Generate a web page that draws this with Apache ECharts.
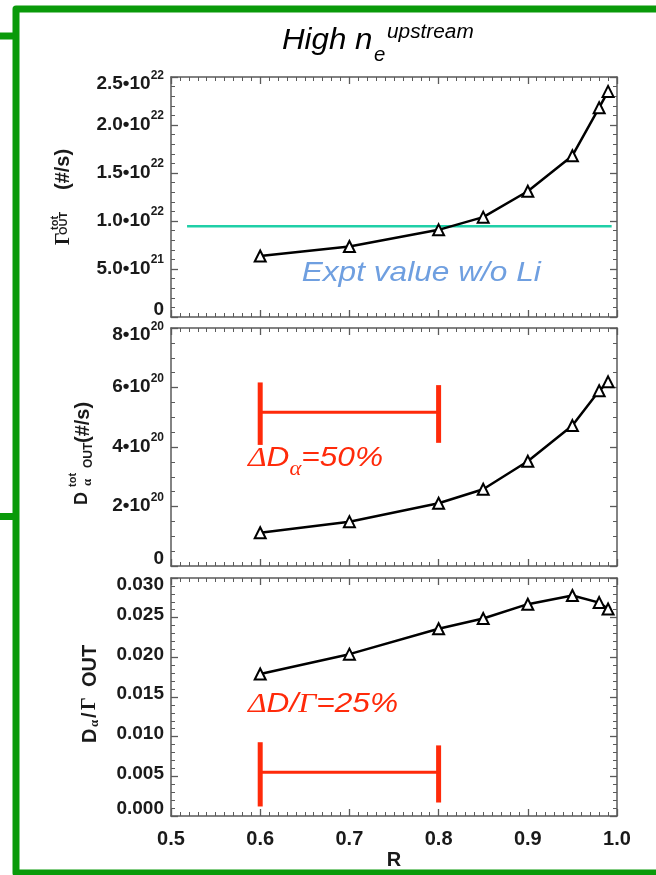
<!DOCTYPE html>
<html>
<head>
<meta charset="utf-8">
<script src="https://cdn.jsdelivr.net/npm/echarts@6/dist/echarts.min.js"></script>
<style>
  html, body { margin: 0; padding: 0; background: #ffffff; }
  #chart { width: 656px; height: 875px; }
</style>
</head>
<body>
<div id="chart"></div>
<script>
// Recycling coefficient scan (R) and outgoing fluxes
const R = [0.6, 0.7, 0.8, 0.85, 0.9, 0.95, 0.98, 0.99];
const gammaOut = [6.35e21, 7.35e21, 9.08e21, 1.04e22, 1.31e22, 1.68e22, 2.18e22, 2.35e22];
const dAlphaOut = [1.12e20, 1.49e20, 2.11e20, 2.58e20, 3.52e20, 4.72e20, 5.89e20, 6.19e20];
const dAlphaOverGamma = [0.0179, 0.0204, 0.0236, 0.0249, 0.0267, 0.0278, 0.0269, 0.0261];

// Experimental flux level without lithium
const exptR = [0.518, 0.994];
const exptGamma = 9.45e21;

// Range bars (R from / to, left bar ends, right bar ends, connecting level)
const dAlphaBarR = [0.6, 0.8];
const dAlphaBarLeft = [4.07e20, 6.17e20];
const dAlphaBarRight = [4.14e20, 6.08e20];
const dAlphaBarMid = 5.17e20;
const ratioBarR = [0.6, 0.8];
const ratioBarLeft = [0.0012, 0.0093];
const ratioBarRight = [0.0017, 0.0089];
const ratioBarMid = 0.0055;

// Axis ranges and tick steps
const xRange = [0.5, 1.0], xStep = 0.1;
const gammaRange = [0, 2.5e22], gammaStep = 5e21;
const dAlphaRange = [0, 8e20], dAlphaStep = 2e20;
const ratioRange = [0, 0.03], ratioStep = 0.005;

const SANS = '"Liberation Sans", Arial, Helvetica, sans-serif';
const SERIF = '"Liberation Serif", "Times New Roman", serif';
const AX = '#5a5a5a';
const TXT = '#1a1a1a';
const GREEN = '#0a9a0a';
const TEAL = '#1fcfa7';
const BLUE = '#6f9fe0';
const RED = '#ff2a0a';

const chart = echarts.init(document.getElementById('chart'), null, { renderer: 'canvas' });

// Tick-label rich styles: mantissa, exponent; top / bottom labels pushed inward
const LBL = 19, SUP = 12;
const labelRich = {
  n:  { fontFamily: SANS, fontSize: LBL, fontWeight: 'bold', color: TXT, verticalAlign: 'bottom', padding: [0, 0, 6, 0], lineHeight: 25 },
  s:  { fontFamily: SANS, fontSize: SUP, fontWeight: 'bold', color: TXT, verticalAlign: 'bottom', padding: [0, 0, 18, 0], lineHeight: 30 },
  nt: { fontFamily: SANS, fontSize: LBL, fontWeight: 'bold', color: TXT, verticalAlign: 'bottom', padding: [14, 0, 0, 0], lineHeight: 33 },
  st: { fontFamily: SANS, fontSize: SUP, fontWeight: 'bold', color: TXT, verticalAlign: 'bottom', padding: [0, 0, 12, 0], lineHeight: 24 },
  nb: { fontFamily: SANS, fontSize: LBL, fontWeight: 'bold', color: TXT, verticalAlign: 'bottom', padding: [0, 0, 14, 0], lineHeight: 33 }
};

function sciFormatter(decimals, top) {
  return function (v) {
    if (Math.abs(v) < 1e-30) return '{nb|0}';
    const e = Math.floor(Math.log10(v) + 1e-9);
    const m = (v / Math.pow(10, e)).toFixed(decimals);
    const isTop = Math.abs(v - top) < top * 1e-6;
    return isTop ? '{nt|' + m + '•10}{st|' + e + '}' : '{n|' + m + '•10}{s|' + e + '}';
  };
}
function fixedFormatter(decimals, top) {
  return function (v) {
    const t = v.toFixed(decimals);
    if (Math.abs(v) < 1e-12) return '{nb|' + t + '}';
    if (Math.abs(v - top) < top * 1e-6) return '{nt|' + t + '}';
    return '{n|' + t + '}';
  };
}

const tickStyle = {
  axisLine: { show: true, onZero: false, lineStyle: { color: AX, width: 1.5 } },
  axisTick: { show: true, inside: true, length: 7, lineStyle: { color: AX, width: 1.3 } },
  splitLine: { show: false },
  minorSplitLine: { show: false }
};

const gridTops = [77, 328, 578];
const gridHeights = [240, 238, 238];
const grids = gridTops.map((t, i) => ({
  left: 171, right: 39, top: t, height: gridHeights[i],
  containLabel: false, outerBoundsMode: 'none'
}));

const xAxes = [];
const yAxes = [];
const yDefs = [
  { range: gammaRange, step: gammaStep, minor: 5, fmt: sciFormatter(1, gammaRange[1]) },
  { range: dAlphaRange, step: dAlphaStep, minor: 4, fmt: sciFormatter(0, dAlphaRange[1]) },
  { range: ratioRange, step: ratioStep, minor: 5, fmt: fixedFormatter(3, ratioRange[1]) }
];

for (let g = 0; g < 3; g++) {
  const lastPanel = g === 2;
  const xCommon = Object.assign({
    type: 'value', gridIndex: g, min: xRange[0], max: xRange[1], interval: xStep,
    minorTick: { show: true, splitNumber: 10, length: 4, lineStyle: { color: AX, width: 1 } }
  }, tickStyle);
  xAxes.push(Object.assign({}, xCommon, {
    position: 'bottom',
    axisLabel: lastPanel ? {
      show: true, margin: 13, fontFamily: SANS, fontSize: 20, fontWeight: 'bold', color: TXT,
      showMinLabel: true, showMaxLabel: true,
      formatter: v => v.toFixed(1)
    } : { show: false },
    name: lastPanel ? 'R' : '',
    nameLocation: 'middle',
    nameGap: 34,
    nameTextStyle: { fontFamily: SANS, fontSize: 20, fontWeight: 'bold', color: TXT }
  }));
  xAxes.push(Object.assign({}, xCommon, { position: 'top', axisLabel: { show: false } }));

  const d = yDefs[g];
  const yCommon = Object.assign({
    type: 'value', gridIndex: g, min: d.range[0], max: d.range[1], interval: d.step,
    minorTick: { show: true, splitNumber: d.minor, length: 4, lineStyle: { color: AX, width: 1 } }
  }, tickStyle);
  yAxes.push(Object.assign({}, yCommon, {
    position: 'left',
    axisLabel: {
      show: true, margin: 7, formatter: d.fmt, rich: labelRich,
      showMinLabel: true, showMaxLabel: true
    }
  }));
  yAxes.push(Object.assign({}, yCommon, { position: 'right', axisLabel: { show: false } }));
}

function curve(g, values) {
  return {
    type: 'line', xAxisIndex: 2 * g, yAxisIndex: 2 * g,
    data: R.map((r, i) => [r, values[i]]),
    symbol: 'emptyTriangle', symbolSize: 11,
    lineStyle: { color: '#000', width: 2.5 },
    itemStyle: { color: '#000', borderColor: '#000', borderWidth: 2 },
    z: 4, silent: true
  };
}

function barSegments(rr, left, right, mid) {
  return [
    [rr[0], left[0], rr[0], left[1]],
    [rr[1], right[0], rr[1], right[1]],
    [rr[0], mid, rr[1], mid]
  ];
}
function rangeBar(g, segs) {
  return {
    type: 'custom', xAxisIndex: 2 * g, yAxisIndex: 2 * g,
    data: segs, encode: { x: [0, 2], y: [1, 3] }, silent: true, z: 3,
    renderItem: function (params, api) {
      const a = api.coord([api.value(0), api.value(1)]);
      const b = api.coord([api.value(2), api.value(3)]);
      const vertical = api.value(0) === api.value(2);
      return {
        type: 'line',
        shape: { x1: a[0], y1: a[1], x2: b[0], y2: b[1] },
        style: { stroke: RED, lineWidth: vertical ? 5 : 3, lineCap: 'butt' }
      };
    }
  };
}

const series = [
  {
    type: 'line', xAxisIndex: 0, yAxisIndex: 0,
    data: exptR.map(r => [r, exptGamma]),
    symbol: 'none', lineStyle: { color: TEAL, width: 2.5 }, z: 2, silent: true
  },
  curve(0, gammaOut),
  curve(1, dAlphaOut),
  curve(2, dAlphaOverGamma),
  rangeBar(1, barSegments(dAlphaBarR, dAlphaBarLeft, dAlphaBarRight, dAlphaBarMid)),
  rangeBar(2, barSegments(ratioBarR, ratioBarLeft, ratioBarRight, ratioBarMid))
];

// Rotated axis-title pieces: baseline x, starting y (text runs upward)
function vtext(text, baseX, yStart, size, family, weight) {
  return {
    type: 'text', x: baseX - 0.35 * size, y: yStart, rotation: Math.PI / 2, silent: true,
    style: {
      text: text, fontSize: size, fontWeight: weight || 'bold', fontFamily: family || SANS,
      fill: TXT, align: 'left', verticalAlign: 'middle'
    }
  };
}
// Horizontal text pieces positioned by baseline
function htext(text, x, baseY, size, color, sx, extra) {
  return {
    type: 'text', x: x, y: baseY - 0.35 * size, scaleX: sx || 1, silent: true,
    style: Object.assign({
      text: text, fontSize: size, fontFamily: SANS, fontStyle: 'italic',
      fill: color, align: 'left', verticalAlign: 'middle'
    }, extra || {})
  };
}

const graphics = [
  // frame
  { type: 'polyline', silent: true, shape: { points: [[660, 9], [16, 9], [16, 873], [660, 873]] },
    style: { stroke: GREEN, lineWidth: 7, fill: 'none', lineJoin: 'round' } },
  { type: 'line', silent: true, shape: { x1: 0, y1: 36, x2: 16, y2: 36 }, style: { stroke: GREEN, lineWidth: 7 } },
  { type: 'line', silent: true, shape: { x1: 0, y1: 516.5, x2: 16, y2: 516.5 }, style: { stroke: GREEN, lineWidth: 7 } },

  // heading
  htext('High n', 282, 51, 29, '#000', 1.08),
  htext('e', 374, 62, 20, '#000', 1.02),
  htext('upstream', 387, 39, 20, '#000', 1.04),

  // panel 1 axis title
  vtext('Γ', 71, 245, 20, SERIF),
  vtext('tot', 59, 230, 11),
  vtext('OUT', 68, 235, 11),
  vtext('(#/s)', 70, 190, 20),

  // panel 2 axis title
  vtext('D', 88, 505, 18),
  vtext('tot', 77, 487, 11),
  vtext('α', 92, 486, 13, SERIF),
  vtext('OUT', 93, 468, 12),
  vtext('(#/s)', 90, 443, 20),

  // panel 3 axis title
  vtext('D', 97, 743, 20),
  vtext('α', 99, 727, 13, SERIF),
  vtext('/', 97, 718, 20),
  vtext('Γ', 97, 710, 20, SERIF),
  vtext('OUT', 97, 687, 20),

  // annotations
  htext('Expt value w/o Li', 301.7, 283.3, 28, BLUE, 1.13),
  {
    type: 'text', x: 248, y: 444.5, scaleX: 1.13, silent: true,
    style: {
      text: '{g|Δ}{t|D}{a|α}{t|=50%}', align: 'left', verticalAlign: 'top',
      rich: {
        g: { fontFamily: SERIF, fontStyle: 'italic', fontSize: 28, fill: RED, verticalAlign: 'top' },
        t: { fontFamily: SANS, fontStyle: 'italic', fontSize: 28, fill: RED, verticalAlign: 'top' },
        a: { fontFamily: SERIF, fontStyle: 'italic', fontSize: 20, fill: RED, verticalAlign: 'top', padding: [15, 0, 0, 0] }
      }
    }
  },
  {
    type: 'text', x: 248, y: 690.5, scaleX: 1.13, silent: true,
    style: {
      text: '{g|Δ}{t|D/}{g|Γ}{t|=25%}', align: 'left', verticalAlign: 'top',
      rich: {
        g: { fontFamily: SERIF, fontStyle: 'italic', fontSize: 28, fill: RED, verticalAlign: 'top' },
        t: { fontFamily: SANS, fontStyle: 'italic', fontSize: 28, fill: RED, verticalAlign: 'top' }
      }
    }
  }
];

chart.setOption({
  backgroundColor: '#ffffff',
  animation: false,
  grid: grids,
  xAxis: xAxes,
  yAxis: yAxes,
  series: series,
  graphic: graphics
});
</script>
</body>
</html>
